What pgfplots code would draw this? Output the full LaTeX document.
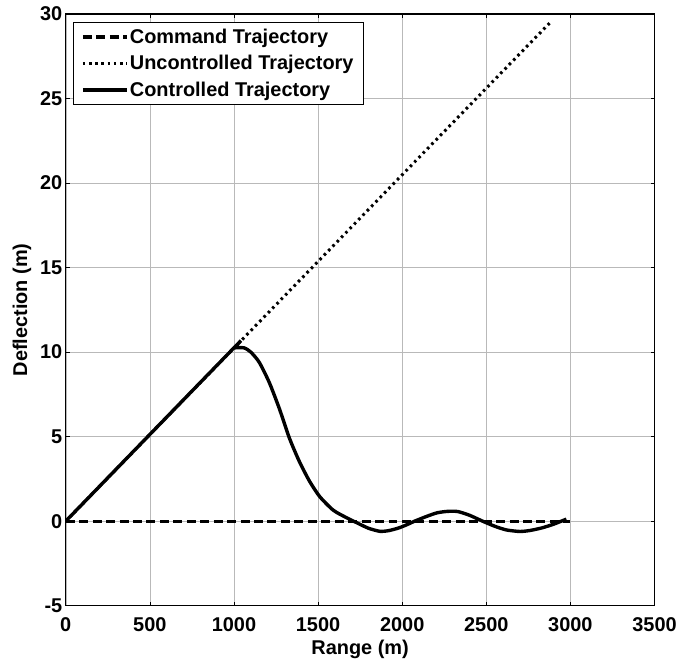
\documentclass[border=0pt]{standalone}
\usepackage{pgfplots}
\pgfplotsset{compat=1.18}
\usepackage{fontspec}
\setmainfont{Liberation Sans}
\begin{document}
\begin{tikzpicture}
\begin{axis}[
  scale only axis, width=591pt, height=594pt,
  xmin=0, xmax=3500, ymin=-5, ymax=30,
  xtick={0,500,...,3500}, ytick={-5,0,...,30},
  grid=major, grid style={gray!55, line width=0.5pt},
  tick align=inside, major tick length=4pt,
  tick style={black, line width=0.6pt},
  axis line style={black, line width=1.2pt},
  font=\fontsize{20}{23}\selectfont\bfseries,
  tick label style={font=\fontsize{20}{23}\selectfont\bfseries},
  /pgf/number format/assume math mode=true,
  /pgf/number format/set thousands separator={},
  xticklabel style={yshift=-8pt},
  xlabel={Range (m)}, ylabel={Deflection (m)},
  xlabel style={yshift=-2pt},
  ylabel style={yshift=2pt},
  legend style={at={(0.012,0.986)}, anchor=north west, draw=black, line width=0.8pt,
    font=\fontsize{20}{23}\selectfont\bfseries, inner xsep=8pt, inner ysep=5pt, row sep=7.5pt,
    nodes={inner sep=1.5pt, xshift=2pt}},
  legend cell align=left,
  legend image code/.code={\draw[#1] (0pt,0pt) -- (44pt,0pt);},
]
\addplot[black, line width=3.2pt, dash pattern=on 9pt off 4.5pt] coordinates {(0,0) (3000,0)};
\addlegendentry{Command Trajectory}
\addplot[black, line width=3pt, dash pattern=on 2.6pt off 3.6pt] coordinates {(0,0) (2880,29.5)};
\addlegendentry{Uncontrolled Trajectory}
\addplot[black, line width=3.4pt, smooth, tension=0.4] coordinates {
(0,0) (990,10.15) (1005,10.25) (1060,10.25) (1100,10.0) (1150,9.4) (1210,8.2) (1270,6.65)
(1330,4.9) (1390,3.5) (1450,2.35) (1510,1.45) (1590,0.65) (1670,0.2) (1740,-0.14)
(1800,-0.42) (1867,-0.6) (1920,-0.56) (1980,-0.4) (2030,-0.2) (2074,0) (2150,0.3)
(2210,0.5) (2271,0.58) (2330,0.57) (2400,0.35) (2478,0) (2550,-0.3) (2620,-0.52)
(2700,-0.61) (2760,-0.55) (2830,-0.4) (2900,-0.18) (2976,0.12)};
\addlegendentry{Controlled Trajectory}
\end{axis}
\path (current axis.south west) ++(-66pt,-53pt) rectangle ++(680pt,661pt);
\end{tikzpicture}
\end{document}
